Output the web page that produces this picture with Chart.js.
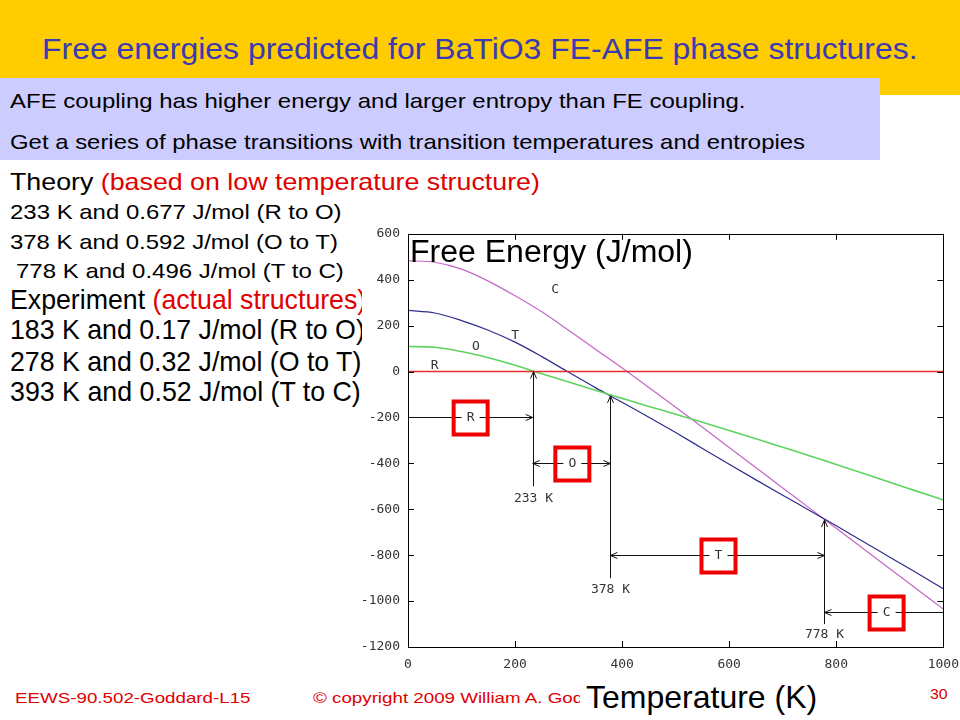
<!DOCTYPE html>
<html>
<head>
<meta charset="utf-8">
<script src="https://cdn.jsdelivr.net/npm/chart.js@4.4.1/dist/chart.umd.min.js"></script>
<style>
  html, body { margin: 0; padding: 0; }
  body { width: 960px; height: 720px; position: relative; overflow: hidden; background: #fff;
         font-family: "Liberation Sans", Arial, sans-serif; }
  .t { position: absolute; white-space: nowrap; line-height: 1; transform-origin: left center; }
  .red { color: #e00000; }
  #banner { position: absolute; left: 0; top: 0; width: 960px; height: 95px; background: #ffcc00; }
  #note { position: absolute; left: 0; top: 78px; width: 880px; height: 82px; background: #ccccff; }
  #chartBox { position: absolute; left: 362px; top: 218px; width: 607px; height: 462px; background: #fff; }
</style>
</head>
<body>
<div id="banner"></div>
<div class="t" data-w="876" style="left:42px; top:34px; font-size:30px; color:#3a3ab4;">Free energies predicted for BaTiO3 FE-AFE phase structures.</div>
<div id="note"></div>
<div class="t" data-w="735" style="left:10px; top:90px; font-size:21px;">AFE coupling has higher energy and larger entropy than FE coupling.</div>
<div class="t" data-w="795" style="left:10px; top:131px; font-size:21px;">Get a series of phase transitions with transition temperatures and entropies</div>

<div class="t" data-w="530" style="left:10px; top:170px; font-size:24px;">Theory <span class="red">(based on low temperature structure)</span></div>
<div class="t" data-w="332" style="left:10px; top:201px; font-size:21px;">233 K and 0.677 J/mol (R to O)</div>
<div class="t" data-w="328" style="left:10px; top:231px; font-size:21px;">378 K and 0.592 J/mol (O to T)</div>
<div class="t" data-w="328" style="left:16px; top:260px; font-size:21px;">778 K and 0.496 J/mol (T to C)</div>
<div class="t" data-like="low" style="left:10px; top:286px; font-size:28px;">Experiment <span class="red">(actual structures)</span></div>
<div class="t" data-like="low" style="left:10px; top:316px; font-size:28px;">183 K and 0.17 J/mol (R to O)</div>
<div class="t" id="low" data-w="351" style="left:10px; top:348px; font-size:28px;">278 K and 0.32 J/mol (O to T)</div>
<div class="t" data-w="351" style="left:10px; top:378px; font-size:28px;">393 K and 0.52 J/mol (T to C)</div>

<div class="t red" id="foot" data-w="235" style="left:15px; top:690px; font-size:15px;">EEWS-90.502-Goddard-L15</div>
<div class="t red" data-like="foot" style="left:313px; top:690px; font-size:15px;">© copyright 2009 William A. Goddard III, all rights reserved</div>
<div class="t red" data-w="18" style="left:930px; top:686px; font-size:15px;">30</div>

<div id="chartBox"><canvas id="energyChart" width="607" height="462"></canvas></div>
<div class="t" data-w="283" style="left:410px; top:236px; font-size:31px;">Free Energy (J/mol)</div>
<div style="position:absolute; left:580px; top:678px; width:244px; height:40px; background:#fff;"></div>
<div class="t" data-w="231" style="left:586px; top:681px; font-size:32px;">Temperature (K)</div>

<script>
// temperatures (K) and free energies (J/mol) of the four phases
const tempsK  = [0, 50, 100, 150, 200, 250, 300, 350, 400, 450, 500, 550, 600, 650, 700, 750, 800, 850, 900, 950, 1000];
const energyC = [483, 476, 446, 394, 330, 260, 180, 97, 15, -70, -156, -243, -331, -419, -507, -595, -683, -771, -859, -947, -1035];
const energyT = [266, 255, 222, 180, 128, 65, -3, -70, -134, -199, -266, -335, -404, -472, -539, -605, -672, -740, -809, -877, -946];
const energyO = [109, 106, 87, 60, 27, -10, -46, -82, -117, -152, -186, -221, -257, -293, -330, -367, -405, -443, -482, -521, -560];
const energyR = [0, 0, 0, 0, 0, 0, 0, 0, 0, 0, 0, 0, 0, 0, 0, 0, 0, 0, 0, 0, 0];

// axis ticks
const xTicks = [0, 200, 400, 600, 800, 1000];
const yTicks = [600, 400, 200, 0, -200, -400, -600, -800, -1000, -1200];

// curve labels
const curveNames  = ["C", "T", "O", "R"];
const curveLabelT = [275, 200, 127, 50];
const curveLabelE = [357, 156, 108, 25];

// transition markers (vertical arrows)
const transitionT     = [233, 378, 778];
const transitionLabel = ["233 K", "378 K", "778 K"];
const arrowTipE       = [0, -106, -647];
const arrowBaseE      = [-500, -900, -1100];
const labelE          = [-552, -952, -1147];

// stability ranges (horizontal arrows)
const phaseNames  = ["R", "O", "T", "C"];
const phaseFrom   = [0, 233, 378, 1000];
const phaseTo     = [233, 378, 778, 778];
const phaseE      = [-200, -400, -800, -1048];
const phaseLabelT = [117, 307, 580, 894];
const phaseBoth   = [false, true, true, false];

const tickFamily = "'DejaVu Sans Mono', monospace";
const tickColor = "#333";

// fit slide text to the widths in the reference
document.querySelectorAll("[data-w]").forEach((el) => {
    el.dataset.k = +el.dataset.w / el.offsetWidth;
    el.style.transform = `scaleX(${el.dataset.k})`;
});
document.querySelectorAll("[data-like]").forEach((el) => {
    const k = document.getElementById(el.dataset.like).dataset.k;
    el.style.transform = `scaleX(${k})`;
});

const head = (ctx, x, y, dx, dy) => {
    // open arrow head pointing along (dx, dy)
    const len = 7, half = 3;
    ctx.beginPath();
    ctx.moveTo(x - dx * len - dy * half, y - dy * len + dx * half);
    ctx.lineTo(x, y);
    ctx.lineTo(x - dx * len + dy * half, y - dy * len - dx * half);
    ctx.stroke();
};

const decorations = {
    id: "decorations",
    afterDatasetsDraw(chart) {
        const { ctx, chartArea: a, scales: { x, y } } = chart;
        ctx.save();

        // frame with inward ticks on all sides
        ctx.strokeStyle = "#000";
        ctx.lineWidth = 1;
        ctx.strokeRect(Math.round(a.left) + 0.5, Math.round(a.top) + 0.5,
                       Math.round(a.right - a.left), Math.round(a.bottom - a.top));
        ctx.beginPath();
        yTicks.forEach((v) => {
            const py = Math.round(y.getPixelForValue(v)) + 0.5;
            ctx.moveTo(a.left, py); ctx.lineTo(a.left + 6, py);
            ctx.moveTo(a.right, py); ctx.lineTo(a.right - 6, py);
        });
        xTicks.forEach((v) => {
            const px = Math.round(x.getPixelForValue(v)) + 0.5;
            ctx.moveTo(px, a.bottom); ctx.lineTo(px, a.bottom - 6);
            ctx.moveTo(px, a.top); ctx.lineTo(px, a.top + 6);
        });
        ctx.stroke();

        ctx.font = `13px ${tickFamily}`;
        ctx.fillStyle = tickColor;
        ctx.textAlign = "center";
        ctx.textBaseline = "middle";

        // curve names
        curveNames.forEach((n, i) => {
            ctx.fillText(n, x.getPixelForValue(curveLabelT[i]), y.getPixelForValue(curveLabelE[i]));
        });

        // vertical transition arrows
        ctx.strokeStyle = "#111";
        transitionT.forEach((t, i) => {
            const px = Math.round(x.getPixelForValue(t)) + 0.5;
            const top = y.getPixelForValue(arrowTipE[i]);
            ctx.beginPath();
            ctx.moveTo(px, y.getPixelForValue(arrowBaseE[i]));
            ctx.lineTo(px, top);
            ctx.stroke();
            head(ctx, px, top, 0, -1);
            ctx.fillText(transitionLabel[i], px, y.getPixelForValue(labelE[i]));
        });

        // horizontal phase arrows with boxed names
        phaseNames.forEach((n, i) => {
            const py = Math.round(y.getPixelForValue(phaseE[i])) + 0.5;
            const x0 = x.getPixelForValue(phaseFrom[i]);
            const x1 = x.getPixelForValue(phaseTo[i]);
            const lx = x.getPixelForValue(phaseLabelT[i]);
            const s = Math.sign(x1 - x0);
            ctx.strokeStyle = "#111";
            ctx.beginPath();
            ctx.moveTo(x0, py); ctx.lineTo(lx - s * 9, py);
            ctx.moveTo(lx + s * 9, py); ctx.lineTo(x1, py);
            ctx.stroke();
            head(ctx, x1, py, s, 0);
            if (phaseBoth[i]) head(ctx, x0, py, -s, 0);
            ctx.fillText(n, lx, py);
            ctx.strokeStyle = "#ee0000";
            ctx.lineWidth = 4;
            ctx.strokeRect(lx - 17, py - 16, 34, 33);
            ctx.lineWidth = 1;
        });

        ctx.restore();
    }
};

const line = (data, color, width) => ({
    data: tempsK.map((t, i) => ({ x: t, y: data[i] })),
    borderColor: color,
    borderWidth: width,
    pointRadius: 0,
    cubicInterpolationMode: "monotone",
    fill: false
});

new Chart(document.getElementById("energyChart"), {
    type: "line",
    data: {
        datasets: [
            line(energyR, "#e52e2e", 1.5),
            line(energyO, "#5fd35f", 1.6),
            line(energyT, "#2e2e8c", 1.2),
            line(energyC, "#c664cc", 1.2)
        ]
    },
    options: {
        responsive: false,
        animation: false,
        layout: { padding: 0 },
        plugins: { legend: { display: false }, tooltip: { enabled: false } },
        scales: {
            x: {
                type: "linear", min: 0, max: 1000,
                afterBuildTicks: (s) => { s.ticks = xTicks.map((v) => ({ value: v })); },
                afterFit: (s) => { s.height = 33; },
                grid: { display: false, drawTicks: false },
                border: { display: false },
                ticks: { font: { family: tickFamily, size: 13 }, color: tickColor, padding: 10,
                         maxRotation: 0, autoSkip: false, callback: (v) => String(v) }
            },
            y: {
                type: "linear", min: -1200, max: 600,
                afterBuildTicks: (s) => { s.ticks = yTicks.map((v) => ({ value: v })); },
                afterFit: (s) => { s.width = 46; },
                grid: { display: false, drawTicks: false },
                border: { display: false },
                ticks: { font: { family: tickFamily, size: 13 }, color: tickColor, padding: 8,
                         autoSkip: false, callback: (v) => String(v) }
            }
        }
    },
    plugins: [decorations]
});
</script>
</body>
</html>
